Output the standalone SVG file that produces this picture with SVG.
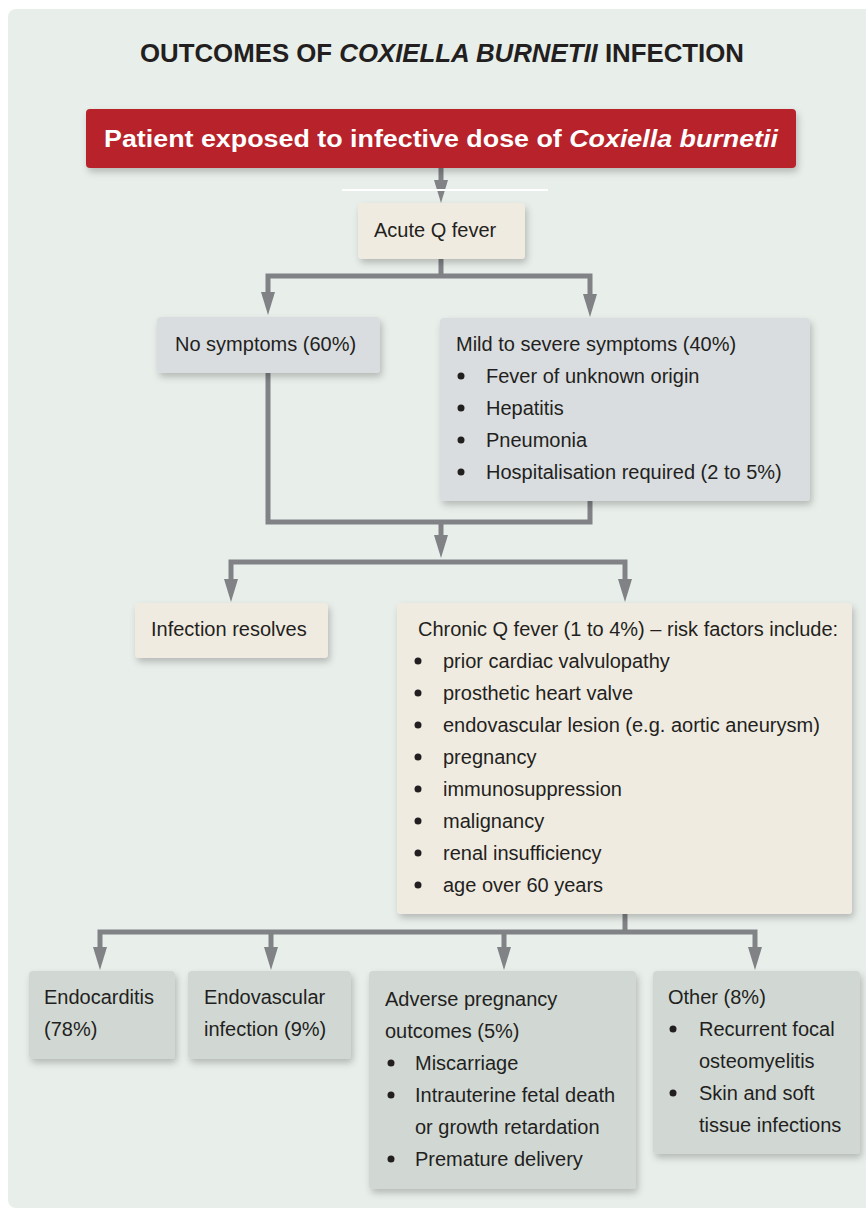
<svg xmlns="http://www.w3.org/2000/svg" width="866" height="1210" viewBox="0 0 866 1210">
<defs>
<filter id="sh" x="-10%" y="-10%" width="125%" height="130%">
<feDropShadow dx="2" dy="4" stdDeviation="3.5" flood-color="#000" flood-opacity="0.22"/>
</filter>
<marker id="ah" markerUnits="userSpaceOnUse" markerWidth="24" markerHeight="14" refX="0" refY="7" orient="auto">
<path d="M0,0 L23,7 L0,14 Z" fill="#808285"/>
</marker>
<style>
.t{font-family:"Liberation Sans",Arial,sans-serif;font-size:20px;fill:#231f20}
.beige{fill:#f0ebe1}
.grey{fill:#d9dddf}
.green{fill:#d1d8d4}
.ln{fill:none;stroke:#808285;stroke-width:5;stroke-linejoin:miter}
.ar{marker-end:url(#ah)}
.b{fill:#231f20}
</style>
</defs>
<rect x="0" y="0" width="866" height="1210" fill="#ffffff"/>
<rect x="8" y="9" width="880" height="1199" rx="8" fill="#e8eeea"/>

<g id="title">
<text x="140" y="62" textLength="604" lengthAdjust="spacingAndGlyphs" style="font-family:'Liberation Sans',Arial,sans-serif;font-size:25px;font-weight:bold;fill:#231f20">OUTCOMES OF <tspan font-style="italic">COXIELLA BURNETII</tspan> INFECTION</text>
</g>

<g id="connectors">
<path class="ln ar" d="M441,168 V180"/>
<line x1="342" y1="190" x2="548" y2="190" stroke="#ffffff" stroke-width="2"/>
<path class="ln" d="M441,259 V276"/>
<path class="ln ar" d="M441,276 H268 V292"/>
<path class="ln ar" d="M441,276 H590 V294"/>
<path class="ln" d="M268,373 V522 H590 V501"/>
<path class="ln ar" d="M441,522 V535"/>
<path class="ln ar" d="M441,562 H231 V579"/>
<path class="ln ar" d="M441,562 H625 V579"/>
<path class="ln" d="M625,914 V932"/>
<path class="ln ar" d="M625,932 H100 V947"/>
<path class="ln ar" d="M271,932 V947"/>
<path class="ln ar" d="M504,932 V947"/>
<path class="ln ar" d="M625,932 H755 V947"/>
</g>

<g id="exposed">
<rect x="86" y="109" width="710" height="59" rx="4" fill="#b8232b" filter="url(#sh)"/>
<text x="104" y="147" textLength="674" lengthAdjust="spacingAndGlyphs" style="font-family:'Liberation Sans',Arial,sans-serif;font-size:23px;font-weight:bold;fill:#ffffff">Patient exposed to infective dose of <tspan font-style="italic">Coxiella burnetii</tspan></text>
</g>

<g id="acute">
<rect class="beige" x="358" y="203" width="167" height="56" rx="4" filter="url(#sh)"/>
<text class="t" x="374" y="237">Acute Q fever</text>
</g>

<g id="nosymptoms">
<rect class="grey" x="157" y="317" width="223" height="56" rx="4" filter="url(#sh)"/>
<text class="t" x="175" y="351">No symptoms (60%)</text>
</g>

<g id="mild">
<rect class="grey" x="440" y="318" width="370" height="183" rx="4" filter="url(#sh)"/>
<text class="t" x="456" y="351">Mild to severe symptoms (40%)</text>
<circle class="b" cx="461" cy="376" r="3.5"/><text class="t" x="486" y="383">Fever of unknown origin</text>
<circle class="b" cx="461" cy="408" r="3.5"/><text class="t" x="486" y="415">Hepatitis</text>
<circle class="b" cx="461" cy="440" r="3.5"/><text class="t" x="486" y="447">Pneumonia</text>
<circle class="b" cx="461" cy="472" r="3.5"/><text class="t" x="486" y="479">Hospitalisation required (2 to 5%)</text>
</g>

<g id="resolves">
<rect class="beige" x="135" y="603" width="193" height="55" rx="4" filter="url(#sh)"/>
<text class="t" x="151" y="636">Infection resolves</text>
</g>

<g id="chronic">
<rect class="beige" x="397" y="603" width="455" height="311" rx="4" filter="url(#sh)"/>
<text class="t" x="418" y="636">Chronic Q fever (1 to 4%) – risk factors include:</text>
<circle class="b" cx="418" cy="661" r="3.5"/><text class="t" x="443" y="668">prior cardiac valvulopathy</text>
<circle class="b" cx="418" cy="693" r="3.5"/><text class="t" x="443" y="700">prosthetic heart valve</text>
<circle class="b" cx="418" cy="725" r="3.5"/><text class="t" x="443" y="732">endovascular lesion (e.g. aortic aneurysm)</text>
<circle class="b" cx="418" cy="757" r="3.5"/><text class="t" x="443" y="764">pregnancy</text>
<circle class="b" cx="418" cy="789" r="3.5"/><text class="t" x="443" y="796">immunosuppression</text>
<circle class="b" cx="418" cy="821" r="3.5"/><text class="t" x="443" y="828">malignancy</text>
<circle class="b" cx="418" cy="853" r="3.5"/><text class="t" x="443" y="860">renal insufficiency</text>
<circle class="b" cx="418" cy="885" r="3.5"/><text class="t" x="443" y="892">age over 60 years</text>
</g>

<g id="endocarditis">
<rect class="green" x="29" y="971" width="146" height="88" rx="4" filter="url(#sh)"/>
<text class="t" x="44" y="1004">Endocarditis</text>
<text class="t" x="44" y="1036">(78%)</text>
</g>

<g id="endovascular">
<rect class="green" x="188" y="971" width="163" height="88" rx="4" filter="url(#sh)"/>
<text class="t" x="204" y="1004">Endovascular</text>
<text class="t" x="204" y="1036">infection (9%)</text>
</g>

<g id="pregnancy">
<rect class="green" x="369" y="971" width="267" height="218" rx="4" filter="url(#sh)"/>
<text class="t" x="385" y="1006">Adverse pregnancy</text>
<text class="t" x="385" y="1038">outcomes (5%)</text>
<circle class="b" cx="391" cy="1063" r="3.5"/><text class="t" x="415" y="1070">Miscarriage</text>
<circle class="b" cx="391" cy="1095" r="3.5"/><text class="t" x="415" y="1102">Intrauterine fetal death</text>
<text class="t" x="415" y="1134">or growth retardation</text>
<circle class="b" cx="391" cy="1159" r="3.5"/><text class="t" x="415" y="1166">Premature delivery</text>
</g>

<g id="other">
<rect class="green" x="653" y="971" width="207" height="183" rx="4" filter="url(#sh)"/>
<text class="t" x="668" y="1004">Other (8%)</text>
<circle class="b" cx="673" cy="1029" r="3.5"/><text class="t" x="699" y="1036">Recurrent focal</text>
<text class="t" x="699" y="1068">osteomyelitis</text>
<circle class="b" cx="673" cy="1093" r="3.5"/><text class="t" x="699" y="1100">Skin and soft</text>
<text class="t" x="699" y="1132">tissue infections</text>
</g>
</svg>
